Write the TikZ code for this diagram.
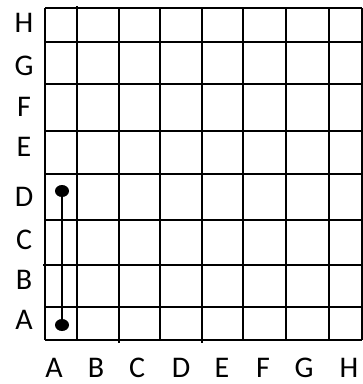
\documentclass[tikz,border=0pt]{standalone}
\usepackage{fontspec}
\setmainfont{Carlito}
\usetikzlibrary{shapes.geometric}
\begin{document}
\begin{tikzpicture}[x=1pt,y=-1pt,
  gridline/.style={line width=1.7pt, black},
  lbl/.style={font=\fontsize{30}{30}\selectfont, inner sep=0pt, text=black},
  dotnode/.style={ellipse, fill=black, inner sep=0pt, minimum width=14pt, minimum height=12pt},
  link/.style={line width=1.7pt, black}]
\useasboundingbox (0,0) rectangle (363,384);
% vertical grid lines
\foreach \x in {45,77,119,160,202,243,286,329,362}
  \draw[gridline] (\x,8) -- (\x,340);
% horizontal grid lines
\foreach \y in {8,42,84,131,174,220,265,307,340}
  \draw[gridline] (45,\y) -- (362,\y);
% small protrusions
\draw[gridline] (77,8) -- (77,5.5);
\draw[gridline] (119,340) -- (119,343);
\draw[gridline] (202,340) -- (202,343);
\draw[gridline] (45,265) -- (42.5,265);
% row labels
\node[lbl] (rH) at (24,23) {H};
\node[lbl] (rG) at (24,66) {G};
\node[lbl] (rF) at (24,107) {F};
\node[lbl] (rE) at (24,147) {E};
\node[lbl] (rD) at (24,197) {D};
\node[lbl] (rC) at (24,240) {C};
\node[lbl] (rB) at (24,280) {B};
\node[lbl] (rA) at (24,320) {A};
% column labels
\node[lbl] (cA) at (54,368) {A};
\node[lbl] (cB) at (96,368) {B};
\node[lbl] (cC) at (137,368) {C};
\node[lbl] (cD) at (181,368) {D};
\node[lbl] (cE) at (222,368) {E};
\node[lbl] (cF) at (263,368) {F};
\node[lbl] (cG) at (304,368) {G};
\node[lbl] (cH) at (349,368) {H};
% dots and connector
\node[dotnode] (dD) at (62,191) {};
\node[dotnode] (dA) at (62,325) {};
\draw[link] (dD.center) -- (dA.center);
\end{tikzpicture}
\end{document}
